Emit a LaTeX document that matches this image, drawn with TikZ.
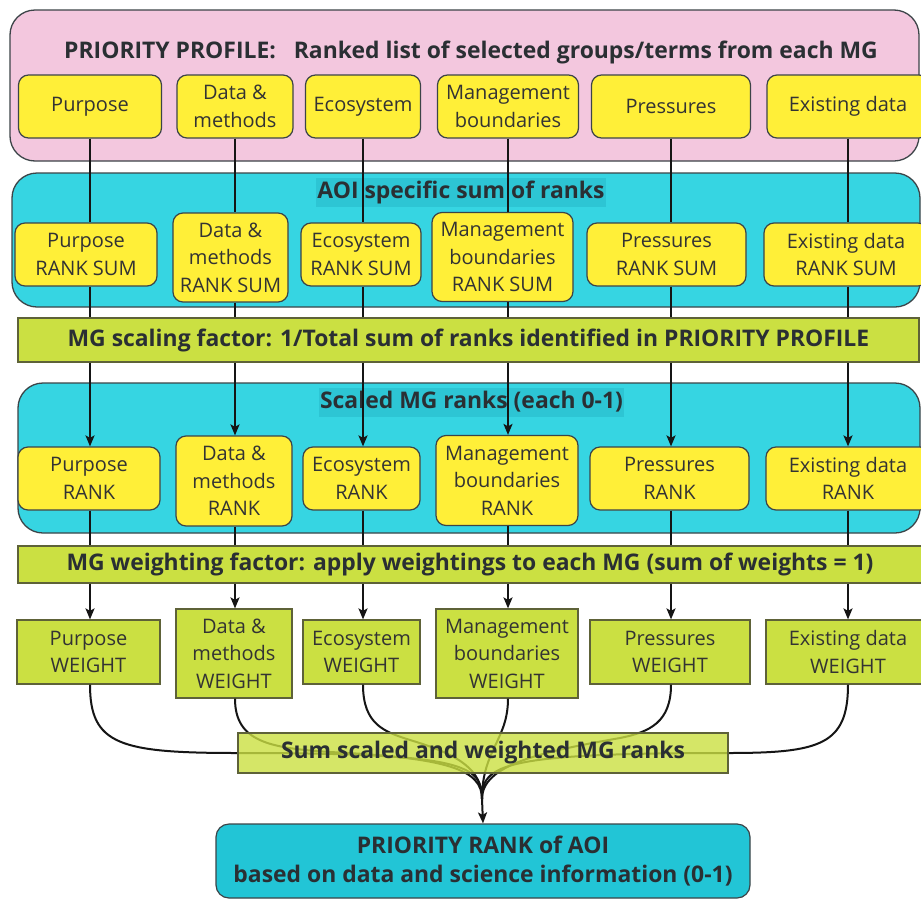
\documentclass[tikz,border=0pt]{standalone}
\usepackage{fontspec}
\setmainfont{Open Sans}
\usetikzlibrary{arrows.meta}
\definecolor{pinkbg}{HTML}{F3C7DE}
\definecolor{cyanbg}{HTML}{36D5E2}
\definecolor{hlc}{HTML}{2CC3D2}
\definecolor{prioc}{HTML}{22C5D6}
\definecolor{yel}{HTML}{FFEF38}
\definecolor{grn}{HTML}{CBE042}
\definecolor{bordc}{HTML}{3C4448}
\definecolor{gbord}{HTML}{5E6238}
\definecolor{txtc}{HTML}{333333}
\definecolor{ttlc}{HTML}{2A2F33}
\definecolor{linec}{HTML}{151515}
\newcommand\bxfont{\fontsize{20}{27.5}\selectfont}
\newcommand\ttlfont{\fontsize{22.9}{29}\selectfont\bfseries}
\begin{document}
\begin{tikzpicture}[x=1pt,y=-1pt,
  container/.style={draw=bordc,line width=1.3pt,rounded corners=25pt,inner sep=0pt},
  ybox/.style={draw=bordc,fill=yel,rounded corners=10pt,line width=1.2pt,align=center,text=txtc,font=\bxfont,inner sep=0pt},
  gbox/.style={draw=gbord,fill=grn,line width=1.2pt,align=center,text=txtc,font=\bxfont,inner sep=0pt},
  bar/.style={draw=gbord,fill=grn,line width=1.2pt,align=center,text=ttlc,font=\ttlfont,inner sep=0pt},
  hl/.style={fill=hlc,fill opacity=0.85,text opacity=1,text=ttlc,font=\ttlfont,minimum height=29pt,inner xsep=1pt,inner ysep=0pt},
  conn/.style={line width=2pt,draw=linec},
  arr/.style={conn,-{Stealth[length=11pt,width=9pt,inset=2.5pt]}},
  short/.style={minimum height=63pt},
  tall/.style={minimum height=89pt}]
\useasboundingbox (0,0) rectangle (921,900);
\fill[white] (0,0) rectangle (921,900);
% containers
\node[container,fill=pinkbg,minimum width=909pt,minimum height=151pt] (pink) at (464.5,85.5) {};
\node[text=ttlc,font=\ttlfont] (ttl1) at (471,52) {PRIORITY PROFILE:\hspace{12pt} Ranked list of selected groups/terms from each MG};
\node[container,fill=cyanbg,minimum width=908pt,minimum height=134pt] (cy2) at (466,240) {};
\node[hl] (ttl2) at (461,192.5) {AOI specific sum of ranks};
\node[container,fill=cyanbg,minimum width=902pt,minimum height=150pt] (cy3) at (469,458) {};
\node[hl] (ttl3) at (471.5,402) {Scaled MG ranks (each 0-1)};
% bars
\node[bar,minimum width=901pt,minimum height=44pt] (bar1) at (468.5,340) {MG scaling factor: 1/Total sum of ranks identified in PRIORITY PROFILE};
\node[bar,minimum width=904pt,minimum height=37pt] (bar2) at (470,564.5) {MG weighting factor: apply weightings to each MG (sum of weights = 1)};
% row 1
\node[ybox,short,minimum width=143pt] (p1) at (90,106.5) {Purpose};
\node[ybox,short,minimum width=116pt] (d1) at (235,106.5) {Data \&\\methods};
\node[ybox,short,minimum width=115pt] (e1) at (363,106.5) {Ecosystem};
\node[ybox,short,minimum width=141pt] (m1) at (508,106.5) {Management\\boundaries};
\node[ybox,short,minimum width=159pt] (r1) at (671,106.5) {Pressures};
\node[ybox,short,minimum width=162pt] (x1) at (848,106.5) {Existing data};
% row 2
\node[ybox,short,minimum width=142pt] (p2) at (86,254.5) {Purpose\\RANK SUM};
\node[ybox,tall,minimum width=115pt] (d2) at (230.5,257.5) {Data \&\\methods\\RANK SUM};
\node[ybox,short,minimum width=120pt] (e2) at (361,254.5) {Ecosystem\\RANK SUM};
\node[ybox,tall,minimum width=141pt] (m2) at (502.5,257) {Management\\boundaries\\RANK SUM};
\node[ybox,short,minimum width=159pt] (r2) at (666.5,254.5) {Pressures\\RANK SUM};
\node[ybox,short,minimum width=164pt] (x2) at (846,254.5) {Existing data\\RANK SUM};
% row 3
\node[ybox,short,minimum width=142pt] (p3) at (89,478.5) {Purpose\\RANK};
\node[ybox,tall,minimum width=116pt,minimum height=90pt] (d3) at (234,481) {Data \&\\methods\\RANK};
\node[ybox,short,minimum width=117pt] (e3) at (361.5,478.5) {Ecosystem\\RANK};
\node[ybox,tall,minimum width=142pt,minimum height=90pt] (m3) at (507,480.5) {Management\\boundaries\\RANK};
\node[ybox,short,minimum width=159pt] (r3) at (669.5,478.5) {Pressures\\RANK};
\node[ybox,short,minimum width=164pt] (x3) at (848,478.5) {Existing data\\RANK};
% row 4
\node[gbox,minimum height=64pt,minimum width=143pt] (p4) at (88.5,652) {Purpose\\WEIGHT};
\node[gbox,tall,minimum width=116pt] (d4) at (234,653.5) {Data \&\\methods\\WEIGHT};
\node[gbox,minimum height=64pt,minimum width=117pt] (e4) at (361.5,652) {Ecosystem\\WEIGHT};
\node[gbox,tall,minimum width=142pt] (m4) at (507,653.5) {Management\\boundaries\\WEIGHT};
\node[gbox,minimum height=64pt,minimum width=160pt] (r4) at (670,652) {Pressures\\WEIGHT};
\node[gbox,minimum height=64pt,minimum width=164pt] (x4) at (848,652) {Existing data\\WEIGHT};
% vertical connectors
\foreach \a/\b/\c/\d in {p1/p2/p3/p4,d1/d2/d3/d4,e1/e2/e3/e4,m1/m2/m3/m4,r1/r2/r3/r4,x1/x2/x3/x4}{
  \draw[conn] (\a.south) -- (\a.south |- \b.north);
  \draw[conn] (\a.south |- \b.south) -- (\a.south |- bar1.north);
  \draw[arr] (\a.south |- bar1.south) -- (\a.south |- \c.north);
  \draw[conn] (\a.south |- \c.south) -- (\a.south |- bar2.north);
  \draw[arr] (\a.south |- bar2.south) -- (\a.south |- \d.north);
}
% merge curves
\coordinate (mg) at (482,799);
\node[draw=bordc,fill=prioc,line width=1.2pt,rounded corners=13pt,minimum width=534pt,minimum height=74pt,align=center,text=ttlc,font=\ttlfont] (prio) at (483,861) {PRIORITY RANK of AOI\\based on data and science information (0-1)};
\draw[conn] (p1.south |- p4.south) .. controls (90,745) and (120,753) .. (238,753) .. controls (465,753) and (482,765) .. (mg);
\draw[conn] (d1.south |- d4.south) .. controls (235,742) and (270,748) .. (330,752) .. controls (450,758) and (482,770) .. (mg);
\draw[conn] (e1.south |- e4.south) .. controls (363,725) and (385,732) .. (410,740) .. controls (460,755) and (482,770) .. (mg);
\draw[conn] (m1.south |- m4.south) .. controls (508,740) and (482,750) .. (mg);
\draw[conn] (r1.south |- r4.south) .. controls (671,722) and (650,732) .. (620,738) .. controls (540,752) and (482,765) .. (mg);
\draw[conn] (x1.south |- x4.south) .. controls (848,745) and (820,753) .. (728,753) .. controls (500,753) and (482,765) .. (mg);
\draw[arr] (mg) -- (prio.north);
\node[draw=gbord,fill=grn,fill opacity=0.8,text opacity=1,line width=1.2pt,minimum width=490pt,minimum height=40pt,text=ttlc,font=\ttlfont,inner sep=0pt] (sum) at (483,753) {Sum scaled and weighted MG ranks};
\end{tikzpicture}
\end{document}
